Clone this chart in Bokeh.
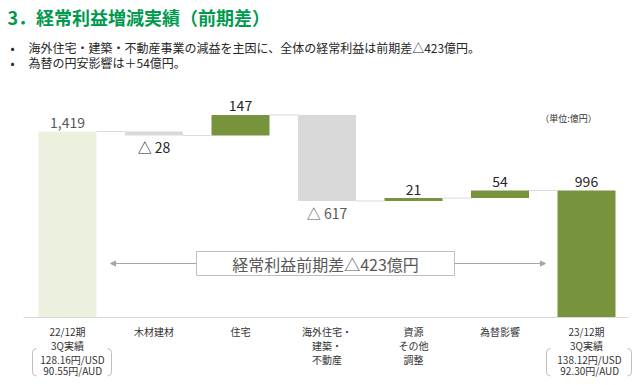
from bokeh.plotting import figure
from bokeh.models import Range1d, Label, Arrow, NormalHead, ColumnDataSource
from bokeh.core.properties import value
from bokeh.embed import file_html
from bokeh.resources import INLINE

# ---------------- data ----------------
categories = ["22/12期\n3Q実績", "木材建材", "住宅", "海外住宅・\n建築・\n不動産",
              "資源\nその他\n調整", "為替影響", "23/12期\n3Q実績"]
start_value = 1419
deltas = [-28, 147, -617, 21, 54]
end_value = 996
rates_start = ["128.16円/USD", "90.55円/AUD"]
rates_end = ["138.12円/USD", "92.30円/AUD"]
title_text = "3．経常利益増減実績（前期差）"
bullets = ["海外住宅・建築・不動産事業の減益を主因に、全体の経常利益は前期差△423億円。",
           "為替の円安影響は＋54億円。"]
total_note = "経常利益前期差△423億円"
unit_note = "（単位:億円）"

# ---------------- layout helpers ----------------
W, H = 632, 377
PX = 7.168          # value units per pixel
BASE = 86           # value at the baseline row
STEP = 86.5         # pixels per category
X0 = 67             # pixel column of first category centre
BASE_ROW = 317      # pixel row of baseline

def rx(px):
    return (px - X0) / STEP

def ry(py):
    return BASE + (BASE_ROW - py) * PX

JP = "Noto Sans CJK JP"

p = figure(width=W, height=H, output_backend="svg", toolbar_location=None,
           x_range=Range1d(rx(0), rx(W)), y_range=Range1d(ry(H), ry(0)),
           x_axis_type=None, y_axis_type=None, min_border=0,
           outline_line_color=None, background_fill_color="white",
           border_fill_color="white")
p.grid.visible = False

# ---------------- waterfall ----------------
n = len(categories)
xs = list(range(n))
bottoms, tops, colors, texts, ty, tcol = [], [], [], [], [], []
bottoms.append(BASE); tops.append(start_value); colors.append("#EBF1DE")
texts.append(f"{start_value:,}"); ty.append(start_value + 9 * PX); tcol.append("#595959")
levels = [start_value]
run = start_value
for k, d in enumerate(deltas):
    new = run + d
    bottoms.append(min(run, new)); tops.append(max(run, new))
    if d < 0:
        colors.append("#D9D9D9")
        texts.append(f"△ {abs(d)}")
        ty.append(min(run, new) - 12 * PX)
        tcol.append("#262626" if k == 0 else "#595959")
    else:
        colors.append("#77933C")
        texts.append(f"{d:,}")
        ty.append(max(run, new) + 9 * PX)
        tcol.append("#262626")
    run = new
    levels.append(run)
bottoms.append(BASE); tops.append(end_value); colors.append("#77933C")
texts.append(f"{end_value:,}"); ty.append(end_value + 9 * PX); tcol.append("#262626")

BW = 58 / STEP
src = ColumnDataSource(dict(x=xs, bottom=bottoms, top=tops, color=colors))
p.vbar(x="x", width=BW, bottom="bottom", top="top", fill_color="color",
       line_color=None, source=src)

# connectors
p.segment(x0=[i + BW / 2 for i in range(n - 1)], x1=[i + 1 - BW / 2 for i in range(n - 1)],
          y0=levels, y1=levels, line_color="#D9D9D9", line_width=1)

# baseline
p.segment(x0=[rx(23)], x1=[rx(628)], y0=[BASE], y1=[BASE], line_color="#D9D9D9", line_width=1)

# value labels
p.text(x=xs, y=ty, text=texts, text_color=tcol, text_font=value(JP),
       text_font_size="14px", text_align="center", text_baseline="middle")

# category labels
cx, cy, ct = [], [], []
rows = [331, 345, 359]
for i, c in enumerate(categories):
    for j, line in enumerate(c.split("\n")):
        cx.append(i); cy.append(ry(rows[j])); ct.append(line)
p.text(x=cx, y=cy, text=ct, text_color="#333333", text_font=value(JP),
       text_font_size="10px", text_align="center", text_baseline="middle")

# exchange-rate notes with brackets
for (left, right, centre, rates) in [(32, 111, 72, rates_start), (546, 631, 589, rates_end)]:
    p.text(x=[rx(centre)] * 2, y=[ry(359), ry(369.5)], text=rates, text_color="#333333",
           text_font=value(JP), text_font_size="10px", text_align="center",
           text_baseline="middle")
    top_r, bot_r = 348, 375.5
    lx = [left + 4, left + 1, left, left, left + 1, left + 4]
    rxs = [right - 4, right - 1, right, right, right - 1, right - 4]
    yy = [top_r, top_r + 1, top_r + 4, bot_r - 4, bot_r - 1, bot_r]
    p.multi_line(xs=[[rx(v) for v in lx], [rx(v) for v in rxs]],
                 ys=[[ry(v) for v in yy], [ry(v) for v in yy]],
                 line_color="#BFBFBF", line_width=1)

# total difference box + arrows
ay = ry(263)
p.quad(left=[rx(196)], right=[rx(454)], top=[ry(251)], bottom=[ry(275)],
       fill_color="white", line_color="#BFBFBF", line_width=1)
for xs_, xe in [(196, 110), (454, 545)]:
    p.add_layout(Arrow(end=NormalHead(size=5, fill_color="#A6A6A6", line_color="#A6A6A6"),
                       x_start=rx(xs_), y_start=ay, x_end=rx(xe), y_end=ay,
                       line_color="#A6A6A6", line_width=1))
p.add_layout(Label(x=rx(325), y=ay, text=total_note, text_font=JP, text_font_size="16px",
                   text_color="#595959", text_align="center", text_baseline="middle"))

# unit note
p.add_layout(Label(x=rx(568), y=ry(118), text=unit_note, text_font=JP, text_font_size="9px",
                   text_color="#333333", text_align="center", text_baseline="middle"))

# title & bullets
p.add_layout(Label(x=rx(7), y=ry(16), text=title_text, text_font=JP, text_font_size="18px",
                   text_font_style="bold", text_color="#00994D", text_align="left",
                   text_baseline="middle"))
for k, b in enumerate(bullets):
    yb = ry(47 + 15 * k)
    p.add_layout(Label(x=rx(12), y=yb, text="•", text_font=JP, text_font_size="12px",
                       text_color="#262626", text_align="center", text_baseline="middle"))
    p.add_layout(Label(x=rx(28), y=yb, text=b, text_font=JP, text_font_size="12px",
                       text_color="#262626", text_align="left", text_baseline="middle"))

open("out.html", "w").write(file_html(p, INLINE))
